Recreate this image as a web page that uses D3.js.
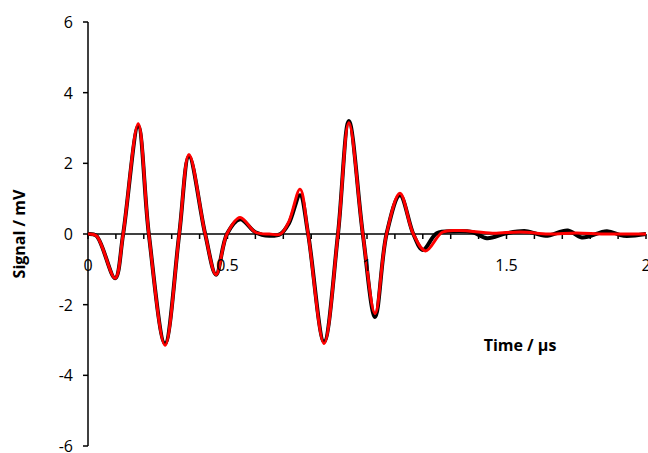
<!DOCTYPE html>
<html><head><meta charset="utf-8">
<script src="https://cdn.jsdelivr.net/npm/d3@7"></script>
<style>body{margin:0;background:#fff}text{font-family:"Open Sans",sans-serif}</style>
</head><body><div id="chart"></div>
<script>
// Time (us) and signal (mV) at extrema and zero crossings
const timeBlack = [0, 0.03, 0.097, 0.126, 0.18, 0.218, 0.276, 0.327, 0.362, 0.42, 0.459, 0.498, 0.545, 0.6, 0.65, 0.69, 0.72, 0.76, 0.789, 0.846, 0.896, 0.935, 0.985, 1.029, 1.07, 1.118, 1.166, 1.2, 1.25, 1.31, 1.38, 1.43, 1.5, 1.57, 1.64, 1.72, 1.77, 1.86, 1.92, 2.0];
const signalBlack = [0, -0.05, -1.25, 0, 3.05, 0, -3.1, 0, 2.2, 0, -1.15, 0, 0.42, 0.05, -0.05, 0, 0.3, 1.1, 0, -3.05, 0, 3.2, 0, -2.35, 0, 1.1, 0, -0.45, 0.02, 0.08, 0.05, -0.12, 0.02, 0.08, -0.05, 0.1, -0.1, 0.08, -0.05, 0];
const timeRed = [0, 0.03, 0.097, 0.126, 0.18, 0.218, 0.276, 0.327, 0.362, 0.42, 0.459, 0.498, 0.545, 0.6, 0.65, 0.69, 0.72, 0.76, 0.789, 0.846, 0.896, 0.935, 0.985, 1.029, 1.07, 1.118, 1.166, 1.21, 1.27, 1.33, 1.45, 1.55, 1.65, 1.75, 1.85, 2.0];
const signalRed = [0, -0.05, -1.25, 0, 3.12, 0, -3.15, 0, 2.25, 0, -1.15, 0, 0.47, 0.05, 0, 0, 0.35, 1.27, 0, -3.1, 0, 3.15, 0, -2.25, 0, 1.15, 0, -0.48, 0.05, 0.1, 0.02, 0.06, 0, 0.03, 0, 0];
const yTicks = [-6, -4, -2, 0, 2, 4, 6];
const xLabels = [0, 0.5, 1, 1.5, 2];

const width = 648, height = 453;
const svg = d3.select("#chart").append("svg").attr("width", width).attr("height", height);

const x = d3.scaleLinear().domain([0, 2]).range([88, 646]);
const y = d3.scaleLinear().domain([-6, 6]).range([446, 22]);

// y axis
svg.append("line").attr("x1", x(0)).attr("x2", x(0)).attr("y1", y(-6)).attr("y2", y(6))
    .attr("stroke", "#000").attr("stroke-width", 1.5);
yTicks.forEach(v => {
  svg.append("line").attr("x1", x(0) - 5).attr("x2", x(0)).attr("y1", y(v)).attr("y2", y(v))
      .attr("stroke", "#000").attr("stroke-width", 1.5);
  svg.append("text").attr("x", 73).attr("y", y(v) + 6).attr("text-anchor", "end")
      .attr("font-size", 16).text(v);
});

// x axis through zero
svg.append("line").attr("x1", x(0)).attr("x2", x(2)).attr("y1", y(0)).attr("y2", y(0))
    .attr("stroke", "#000").attr("stroke-width", 1.5);
d3.range(0, 21).forEach(i => {
  svg.append("line").attr("x1", x(i / 10)).attr("x2", x(i / 10)).attr("y1", y(0)).attr("y2", y(0) + 5)
      .attr("stroke", "#000").attr("stroke-width", 1.5);
});

const line = d3.line().x(d => x(d[0])).y(d => y(d[1])).curve(d3.curveCatmullRom.alpha(0.5));

svg.append("path").attr("d", line(d3.zip(timeBlack, signalBlack)))
    .attr("fill", "none").attr("stroke", "#000").attr("stroke-width", 4);
svg.append("path").attr("d", line(d3.zip(timeRed, signalRed)))
    .attr("fill", "none").attr("stroke", "#ff0000").attr("stroke-width", 3);

// tick labels drawn above the traces
xLabels.forEach(v => {
  svg.append("text").attr("x", x(v)).attr("y", y(0) + 37).attr("text-anchor", "middle")
      .attr("font-size", 16).text(v);
});

svg.append("text").attr("transform", "translate(25," + y(0) + ") rotate(-90)")
    .attr("text-anchor", "middle").attr("font-size", 16).attr("font-weight", "bold").text("Signal / mV");
svg.append("text").attr("x", 520).attr("y", 351).attr("text-anchor", "middle")
    .attr("font-size", 16).attr("font-weight", "bold").text("Time / μs");
</script></body></html>
